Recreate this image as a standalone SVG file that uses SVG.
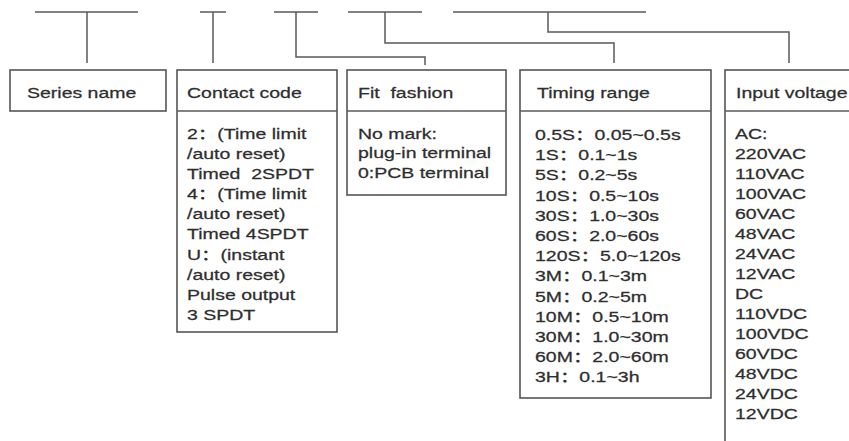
<svg xmlns="http://www.w3.org/2000/svg" width="849" height="441" viewBox="0 0 849 441">
<style>
.bg{fill:#fff}
.ln{fill:none;stroke:#5a5a5a;stroke-width:1.5}
.box{fill:#fff;stroke:#555;stroke-width:1.6}
.t{font-family:"Liberation Sans","Noto Sans CJK SC",Arial,sans-serif;font-size:15px;fill:#2e2e2e;stroke:#2e2e2e;stroke-width:0.25}
</style>
<rect class="bg" x="0" y="0" width="849" height="441"/>
<g id="connectors">
  <path class="ln" d="M35 12H138M87 12V63"/>
  <path class="ln" d="M200 12H226M213 12V63"/>
  <path class="ln" d="M274 12H318M296 12V57H425V65"/>
  <path class="ln" d="M348 12H422M385 12V43H614V63"/>
  <path class="ln" d="M453 12H646M548 12V32H789V63"/>
</g>
<g id="series-name">
  <rect class="box" x="10" y="70" width="156" height="41"/>
  <text class="t" transform="translate(27,98) scale(1.3,1)">Series name</text>
</g>
<g id="contact-code">
  <rect class="box" x="177" y="70" width="160" height="262"/>
  <path class="ln" d="M177 111H337"/>
  <text class="t" transform="translate(187,98) scale(1.3,1)">Contact code</text>
  <text class="t" transform="translate(187,139) scale(1.3,1)"><tspan x="0" y="0">2：(Time limit</tspan><tspan x="0" dy="20.1">/auto reset)</tspan><tspan x="0" dy="20.1">Timed&#160; 2SPDT</tspan><tspan x="0" dy="20.1">4：(Time limit</tspan><tspan x="0" dy="20.1">/auto reset)</tspan><tspan x="0" dy="20.1">Timed 4SPDT</tspan><tspan x="0" dy="20.1">U：(instant</tspan><tspan x="0" dy="20.1">/auto reset)</tspan><tspan x="0" dy="20.1">Pulse output</tspan><tspan x="0" dy="20.1">3 SPDT</tspan></text>
</g>
<g id="fit-fashion">
  <rect class="box" x="347" y="70" width="159" height="125"/>
  <path class="ln" d="M347 111H506"/>
  <text class="t" transform="translate(358,98) scale(1.3,1)">Fit&#160; fashion</text>
  <text class="t" transform="translate(358,139) scale(1.3,1)"><tspan x="0" y="0">No mark:</tspan><tspan x="0" dy="19.5">plug-in terminal</tspan><tspan x="0" dy="19.5">0:PCB terminal</tspan></text>
</g>
<g id="timing-range">
  <rect class="box" x="520" y="70" width="191" height="328"/>
  <path class="ln" d="M520 111H711"/>
  <text class="t" transform="translate(537,98) scale(1.3,1)">Timing range</text>
  <text class="t" transform="translate(535,140) scale(1.3,1)"><tspan x="0" y="0">0.5S：0.05~0.5s</tspan><tspan x="0" dy="20.2">1S：0.1~1s</tspan><tspan x="0" dy="20.2">5S：0.2~5s</tspan><tspan x="0" dy="20.2">10S：0.5~10s</tspan><tspan x="0" dy="20.2">30S：1.0~30s</tspan><tspan x="0" dy="20.2">60S：2.0~60s</tspan><tspan x="0" dy="20.2">120S：5.0~120s</tspan><tspan x="0" dy="20.2">3M：0.1~3m</tspan><tspan x="0" dy="20.2">5M：0.2~5m</tspan><tspan x="0" dy="20.2">10M：0.5~10m</tspan><tspan x="0" dy="20.2">30M：1.0~30m</tspan><tspan x="0" dy="20.2">60M：2.0~60m</tspan><tspan x="0" dy="20.2">3H：0.1~3h</tspan></text>
</g>
<g id="input-voltage">
  <rect class="box" x="725" y="70" width="140" height="400"/>
  <path class="ln" d="M725 111H849"/>
  <text class="t" transform="translate(736,98) scale(1.3,1)">Input voltage</text>
  <text class="t" transform="translate(735,139) scale(1.3,1)"><tspan x="0" y="0">AC:</tspan><tspan x="0" dy="20">220VAC</tspan><tspan x="0" dy="20">110VAC</tspan><tspan x="0" dy="20">100VAC</tspan><tspan x="0" dy="20">60VAC</tspan><tspan x="0" dy="20">48VAC</tspan><tspan x="0" dy="20">24VAC</tspan><tspan x="0" dy="20">12VAC</tspan><tspan x="0" dy="20">DC</tspan><tspan x="0" dy="20">110VDC</tspan><tspan x="0" dy="20">100VDC</tspan><tspan x="0" dy="20">60VDC</tspan><tspan x="0" dy="20">48VDC</tspan><tspan x="0" dy="20">24VDC</tspan><tspan x="0" dy="20">12VDC</tspan></text>
</g>
</svg>
